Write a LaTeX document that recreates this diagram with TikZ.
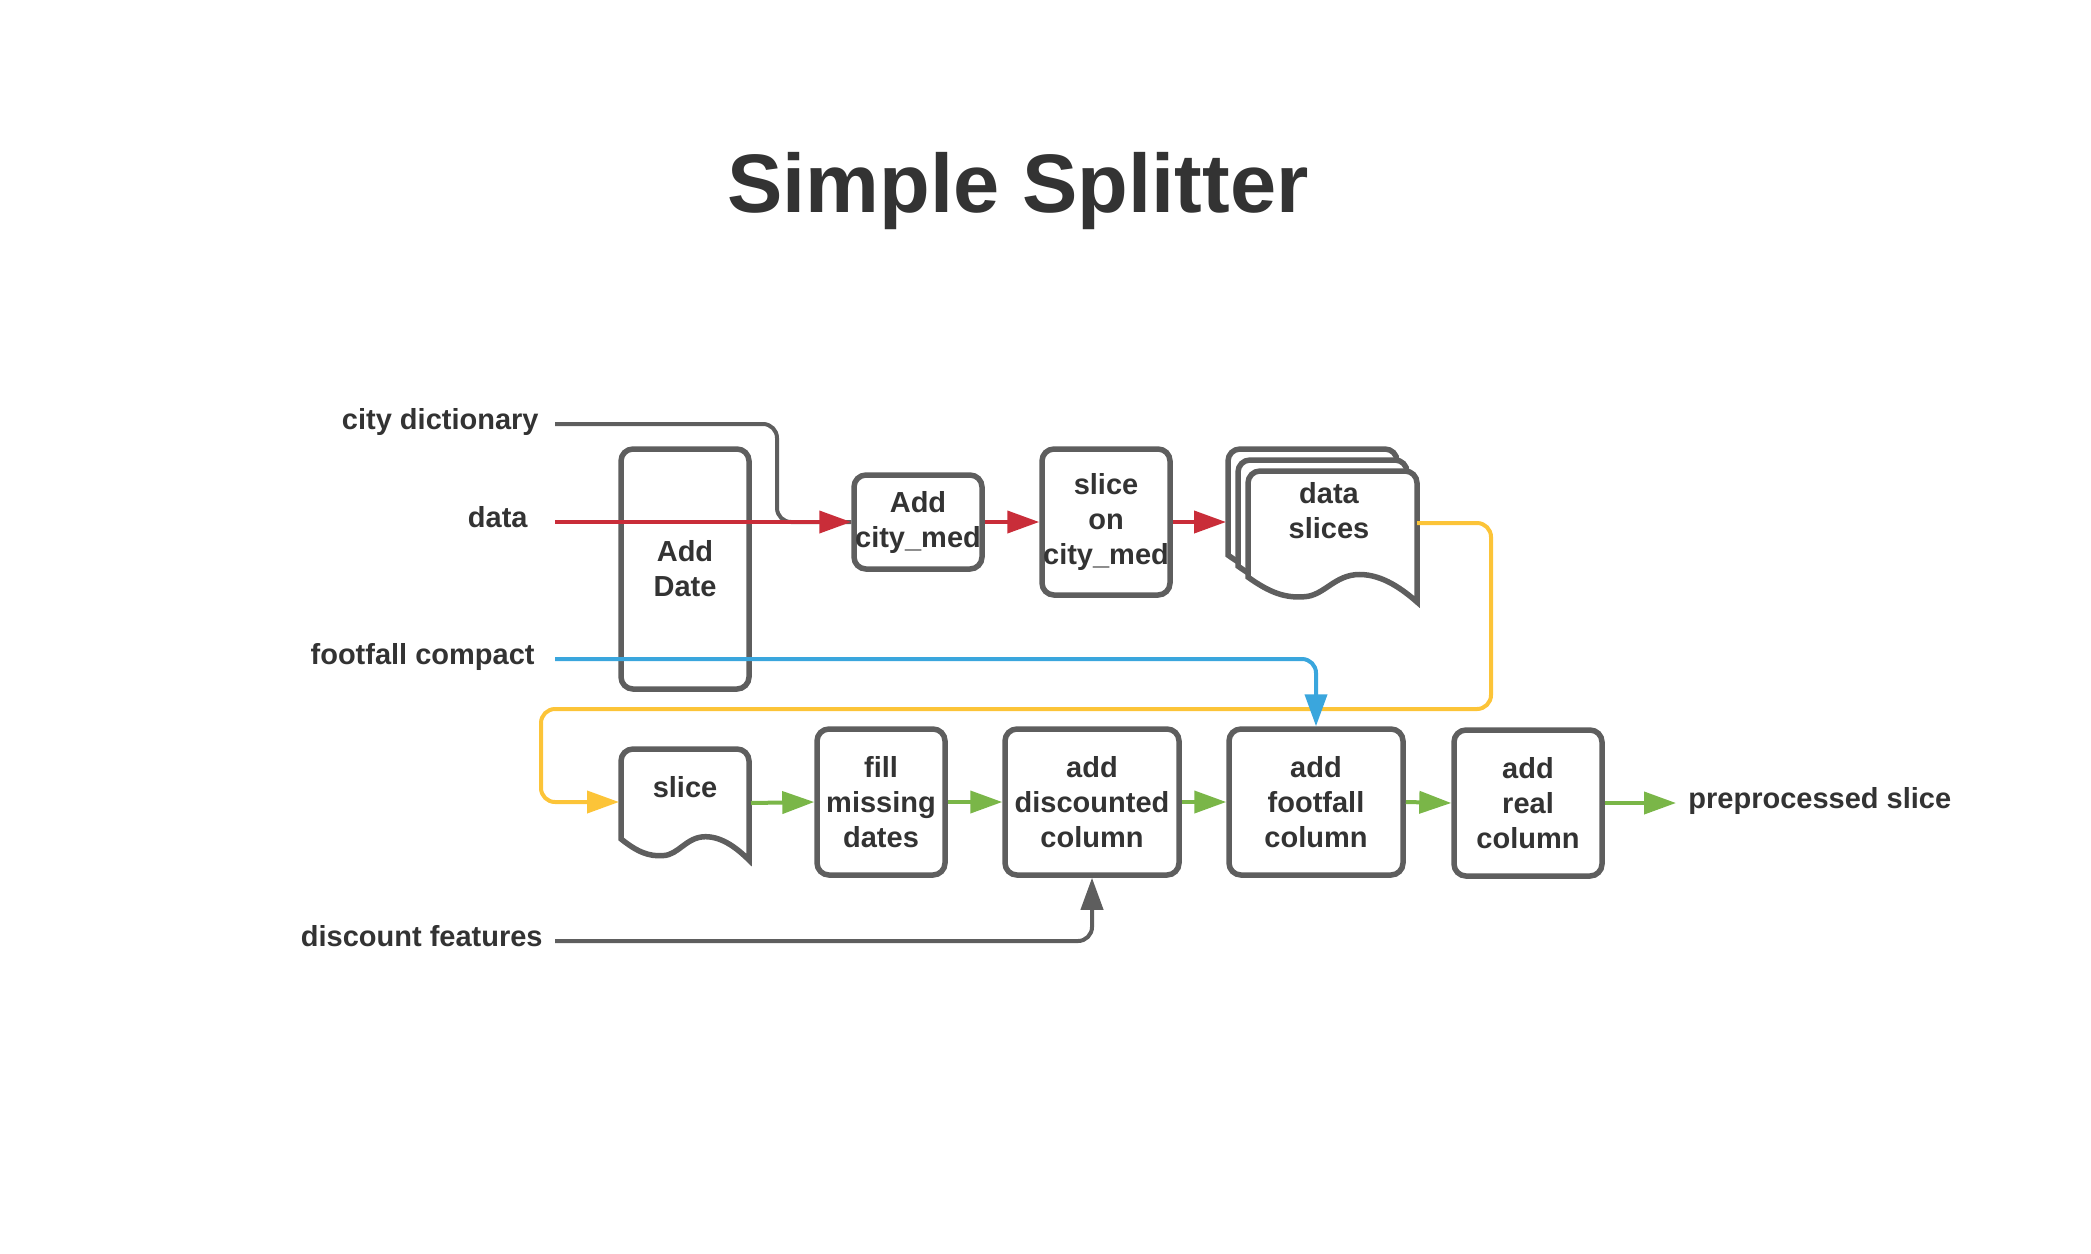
\documentclass[tikz,border=0pt]{standalone}
\usepackage{fontspec}
\setmainfont{Liberation Sans}
\usetikzlibrary{arrows.meta,positioning}

\definecolor{boxgray}{HTML}{5E5E5E}
\definecolor{txtgray}{HTML}{333333}
\definecolor{flowred}{HTML}{C92D39}
\definecolor{flowyellow}{HTML}{FCC438}
\definecolor{flowblue}{HTML}{3AA6DD}
\definecolor{flowgreen}{HTML}{7AB648}

\tikzset{
	proc/.style={draw=boxgray, line width=2.75pt, rounded corners=6pt,
		align=center, text=txtgray, inner sep=0pt,
		font=\bfseries\fontsize{14.5}{17.5}\selectfont},
	lbl/.style={text=txtgray, inner sep=0pt,
		font=\bfseries\fontsize{14.5}{17.5}\selectfont},
	docline/.style={draw=boxgray, fill=white, line width=2.75pt},
	flow/.style={line width=2pt, rounded corners=7pt,
		-{Triangle[length=16pt,width=11pt]}},
}

% document sheet: left, top, width, height
\newcommand{\docsheet}[4]{%
	\draw[docline] (#1,#2+0.81*#4) [rounded corners=6pt] -- (#1,#2) -- (#1+#3,#2)
		[sharp corners] -- (#1+#3,#2+#4)
		.. controls (#1+0.92*#3,#2+0.91*#4) and (#1+0.80*#3,#2+0.79*#4) .. (#1+0.66*#3,#2+0.79*#4)
		.. controls (#1+0.51*#3,#2+0.79*#4) and (#1+0.45*#3,#2+0.955*#4) .. (#1+0.33*#3,#2+0.96*#4)
		.. controls (#1+0.22*#3,#2+0.97*#4) and (#1+0.13*#3,#2+0.93*#4) .. (#1,#2+0.81*#4) -- cycle;}

\begin{document}
\begin{tikzpicture}[x=0.5pt,y=-0.5pt]
	\useasboundingbox (0,0) rectangle (2091,1253);

	\node[lbl, anchor=base, font=\bfseries\fontsize{41.5}{48}\selectfont] (title) at (1018,212) {Simple Splitter};

	% inputs
	\node[lbl, anchor=mid east] (citylbl) at (539,424) {city dictionary};
	\node[lbl, anchor=mid east] (datalbl) at (528,522) {data};
	\node[lbl, anchor=mid east] (footlbl) at (535,659) {footfall compact};
	\node[lbl, anchor=mid east] (disclbl) at (543,941) {discount features};
	\node[lbl, anchor=mid west] (outlbl) at (1688,803) {preprocessed slice};

	% top row
	\node[proc, minimum width=64pt, minimum height=120pt] (adddate) at (685,569) {Add\\Date};
	\node[proc, minimum width=64pt, minimum height=47pt] (addcity) at (918,522) {Add\\city\_med};
	\node[proc, minimum width=64pt, minimum height=73pt] (slicecity) at (1106,522) {slice\\on\\city\_med};
	\docsheet{1228}{449}{169}{131}
	\docsheet{1238}{460}{169}{131}
	\docsheet{1248}{471}{169}{131}
	\node[lbl, align=center] (slices) at (1329,511) {data\\slices};

	% bottom row
	\docsheet{621}{749}{128}{111}
	\node[lbl, anchor=base] (slice) at (685,797) {slice};
	\node[proc, minimum width=64pt, minimum height=73pt] (fill) at (881,802) {fill\\missing\\dates};
	\node[proc, minimum width=87pt, minimum height=73pt] (adddisc) at (1092,802) {add\\discounted\\column};
	\node[proc, minimum width=87pt, minimum height=73pt] (addfoot) at (1316,802) {add\\footfall\\column};
	\node[proc, minimum width=74pt, minimum height=73pt] (addreal) at (1528,803) {add\\real\\column};

	% free ends
	\coordinate (cityin) at (555,424);
	\coordinate (citybend) at (777,424);
	\coordinate (datain) at (555,522);
	\coordinate (footin) at (555,659);
	\coordinate (discin) at (555,941);
	\coordinate (stackin) at (1226,522);
	\coordinate (stackout) at (1417,523);
	\coordinate (yelright) at (1491,709);
	\coordinate (yelleft) at (541,709);
	\coordinate (slicein) at (619,802);
	\coordinate (sliceout) at (751,803);
	\coordinate (outend) at (1676,803);

	% connectors
	\draw[boxgray, line width=2pt, rounded corners=7pt] (cityin) -- (citybend) |- (addcity.west);
	\draw[flow, flowred] (datain) -- (addcity.west);
	\draw[flow, flowred] (addcity.east) -- (slicecity.west);
	\draw[flow, flowred] (slicecity.east) -- (stackin);
	\draw[flow, flowyellow] (stackout) -| (yelright) -- (yelleft) |- (slicein);
	\draw[flow, flowblue] (footin) -| (addfoot.north);
	\draw[flow, flowgreen] (sliceout) -- (fill.west);
	\draw[flow, flowgreen] (fill.east) -- (adddisc.west);
	\draw[flow, flowgreen] (adddisc.east) -- (addfoot.west);
	\draw[flow, flowgreen] (addfoot.east) -- (addreal.west);
	\draw[flow, flowgreen] (addreal.east) -- (outend);
	\draw[flow, boxgray] (discin) -| (adddisc.south);
\end{tikzpicture}
\end{document}
